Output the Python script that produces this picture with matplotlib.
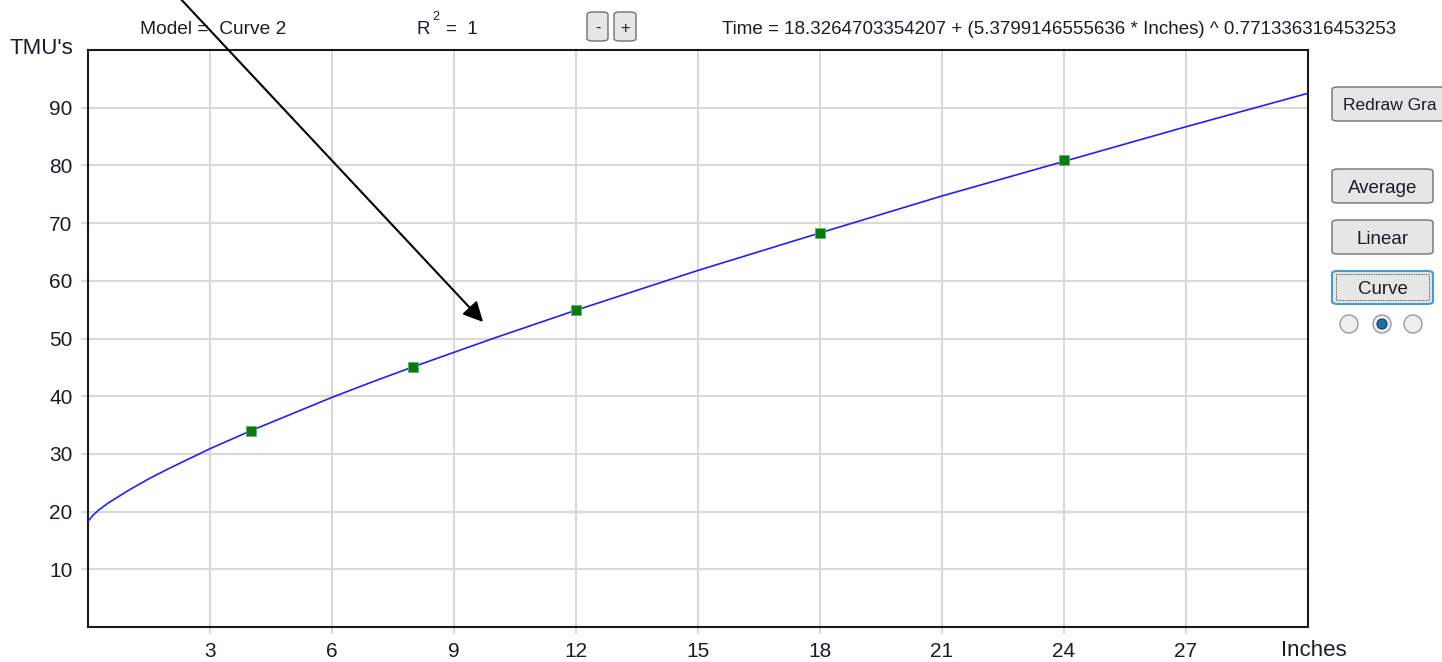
import matplotlib
matplotlib.use("Agg")
import matplotlib.pyplot as plt
from matplotlib.patches import FancyBboxPatch, Circle

plt.rcParams['font.family'] = ['Liberation Sans', 'DejaVu Sans']

# measured points (Inches -> TMU's)
inches = [4, 8, 12, 18, 24]
tmus = [34.0, 45.1, 55.0, 68.3, 80.9]

# fitted curve
curve_x = [0, 0.1, 0.25, 0.5, 1, 1.5, 2, 3, 4, 5, 6, 7, 8, 9, 10, 12, 15, 18, 21, 24, 27, 30]
curve_y = [18.3, 19.2, 20.2, 21.5, 23.7, 25.7, 27.5, 30.9, 34.0, 36.9, 39.8, 42.5, 45.1,
           47.6, 50.1, 54.9, 61.8, 68.3, 74.7, 80.7, 86.7, 92.5]

x_ticks = [3, 6, 9, 12, 15, 18, 21, 24, 27]
y_ticks = [10, 20, 30, 40, 50, 60, 70, 80, 90]

header_model = "Model =  Curve 2"
header_eq = "Time = 18.3264703354207 + (5.3799146555636 * Inches) ^ 0.771336316453253"
buttons = ["Average", "Linear", "Curve"]

W, H = 1442, 662
TXT = '#1c1c28'

fig = plt.figure(figsize=(W / 100, H / 100), dpi=100)
ax = fig.add_axes([88 / W, 35 / H, 1220 / W, 577 / H])

ax.plot(curve_x, curve_y, color='#2020ff', lw=1.2, zorder=3)
ax.scatter(inches, tmus, marker='s', s=48, color='#0a7a0a', edgecolors='#5cb85c',
           linewidths=0.6, zorder=4)

ax.set_xlim(0, 30)
ax.set_ylim(0, 100)
ax.set_xticks(x_ticks)
ax.set_yticks(y_ticks)
ax.grid(True, color='#d9d9d9', lw=1.5)
ax.set_axisbelow(True)
ax.tick_params(length=5, width=1.5, color='#d9d9d9', labelsize=15, labelcolor=TXT, pad=6)
for sp in ax.spines.values():
    sp.set_color('#1a1a1a')
    sp.set_linewidth(1.5)


def px(x, y):
    return x / W, 1 - y / H


def ftext(x, y, s, size=13.5, **kw):
    fig.text(*px(x, y), s, fontsize=size, color=TXT, va='center', **kw)


ftext(10, 48, "TMU's", size=16)
ftext(1281, 651, "Inches", size=16)
ftext(140, 30, header_model, size=13.8)
ftext(417, 30, "R")
ftext(432, 17, "2", size=9)
ftext(446, 30, "=  1")
ftext(722, 30, header_eq)


def button(x0, y0, x1, y1, label, edge='#707070', lw=1.0, size=13.5, ha='center', tx=None):
    fig.add_artist(FancyBboxPatch(px(x0, y1), (x1 - x0) / W, (y1 - y0) / H,
                                  boxstyle='round,pad=0,rounding_size=0.004',
                                  transform=fig.transFigure, facecolor='#e6e6e6',
                                  edgecolor=edge, lw=lw))
    if tx is None:
        tx = (x0 + x1) / 2
    fig.text(*px(tx, (y0 + y1) / 2 + 2), label, fontsize=size, color=TXT,
             ha=ha, va='center')


button(587, 12, 608, 41, "-", size=12)
button(614, 12, 636, 41, "+", size=12)
button(1332, 87, 1460, 121, "Redraw Gra", ha='left', tx=1343, size=12.5)
button(1332, 169, 1433, 203, buttons[0])
button(1332, 220, 1433, 254, buttons[1])
button(1332, 271, 1433, 304, buttons[2], edge='#3c9fd8', lw=1.5)
fig.add_artist(FancyBboxPatch(px(1336, 300), 93 / W, 26 / H, boxstyle='square,pad=0',
                              transform=fig.transFigure, facecolor='none',
                              edgecolor='#333333', lw=0.6, ls=(0, (1, 1))))

for i, cx in enumerate([1349, 1382, 1413]):
    c = (cx / 100, (H - 324) / 100)
    fig.add_artist(Circle(c, 0.09, transform=fig.dpi_scale_trans,
                          facecolor='#eeeeee', edgecolor='#9a9a9a', lw=1))
    if i == 1:
        fig.add_artist(Circle(c, 0.05, transform=fig.dpi_scale_trans,
                              facecolor='#1f6fa8', edgecolor='#0d3f66', lw=0.8))

ax.annotate('', xy=px(485, 324), xycoords='figure fraction',
            xytext=px(177, -5), textcoords='figure fraction',
            arrowprops=dict(arrowstyle='-|>', color='black', lw=1.5, mutation_scale=30),
            annotation_clip=False)

fig.savefig('out.png', dpi=100)
